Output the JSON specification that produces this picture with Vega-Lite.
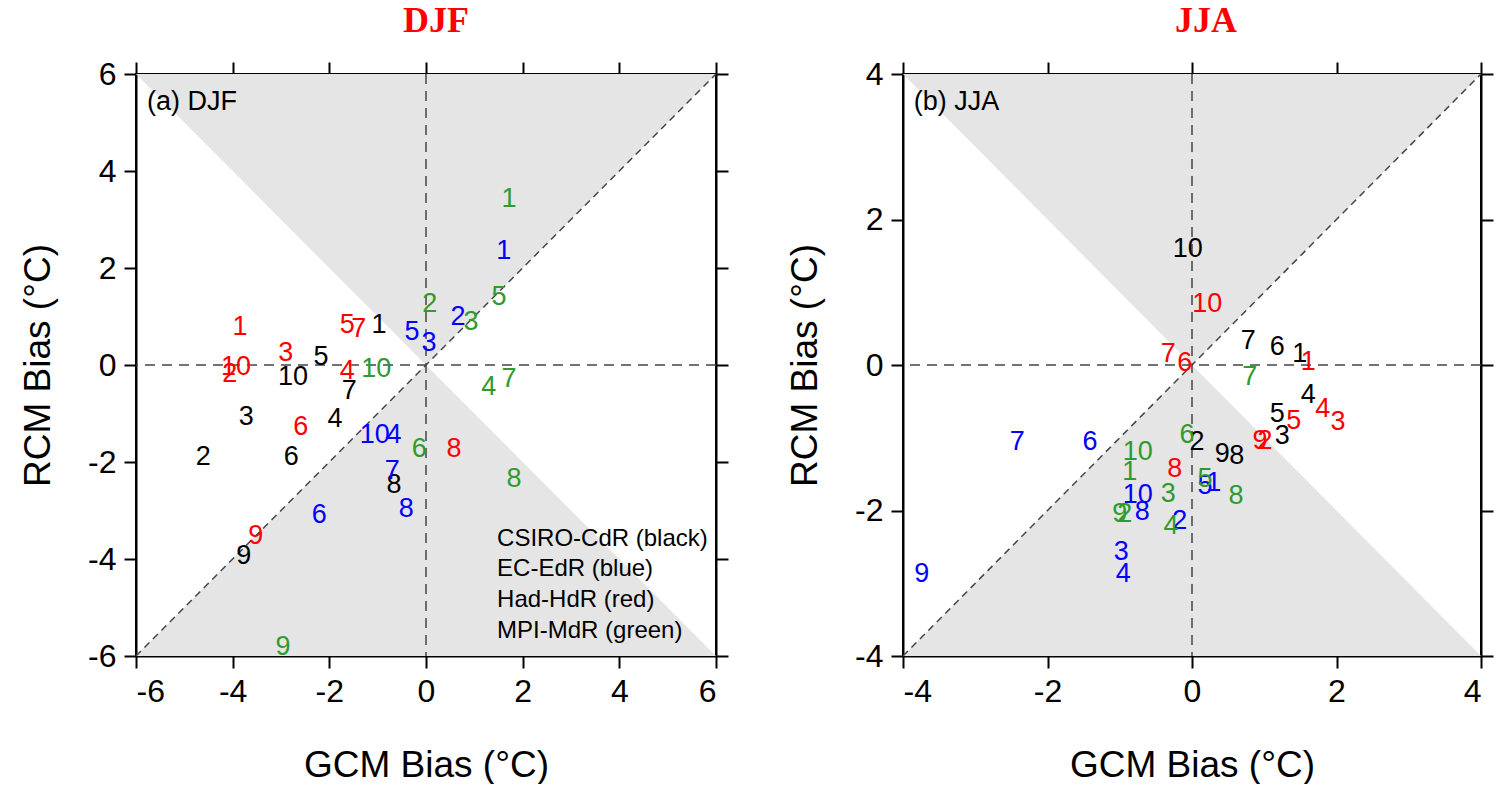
{
  "$schema": "https://vega.github.io/schema/vega-lite/v6.json",
  "background": "white",
  "padding": {"left": 18, "top": 2, "right": 0, "bottom": 0},
  "spacing": 55,
  "config": {
    "view": {"stroke": "black", "strokeWidth": 2},
    "font": "Liberation Sans",
    "axis": {
      "grid": false,
      "domainColor": "black",
      "domainWidth": 2,
      "tickColor": "black",
      "tickWidth": 2,
      "tickSize": 12,
      "labelFont": "Liberation Sans",
      "labelFontSize": 32,
      "labelColor": "black",
      "labelPadding": 8,
      "labelExpr": "replace(datum.label, '\u2212', '-')",
      "titleFont": "Liberation Sans",
      "titleFontSize": 37,
      "titleFontWeight": "normal",
      "titleColor": "black"
    },
    "axisBottom": {"titlePadding": 40},
    "axisLeft": {"titlePadding": 30}
  },
  "datasets": {
    "tri6": [{"x": -6, "u": 6, "l": -6}, {"x": 0, "u": 0, "l": 0}, {"x": 6, "u": 6, "l": -6}],
    "tri4": [{"x": -4, "u": 4, "l": -4}, {"x": 0, "u": 0, "l": 0}, {"x": 4, "u": 4, "l": -4}],
    "diag6": [{"x": -6, "y": -6, "x2": 6, "y2": 6}],
    "diag4": [{"x": -4, "y": -4, "x2": 4, "y2": 4}],
    "djf": [
      {"m": "C", "n": "1", "gx": -0.97, "ry": 0.82},
      {"m": "C", "n": "2", "gx": -4.61, "ry": -1.9},
      {"m": "C", "n": "3", "gx": -3.72, "ry": -1.07},
      {"m": "C", "n": "4", "gx": -1.88, "ry": -1.11},
      {"m": "C", "n": "5", "gx": -2.17, "ry": 0.16},
      {"m": "C", "n": "6", "gx": -2.79, "ry": -1.9},
      {"m": "C", "n": "7", "gx": -1.59, "ry": -0.54},
      {"m": "C", "n": "8", "gx": -0.66, "ry": -2.47},
      {"m": "C", "n": "9", "gx": -3.77, "ry": -3.94},
      {"m": "C", "n": "10", "gx": -2.75, "ry": -0.25},
      {"m": "E", "n": "1", "gx": 1.61, "ry": 2.35},
      {"m": "E", "n": "2", "gx": 0.66, "ry": 0.99},
      {"m": "E", "n": "3", "gx": 0.06, "ry": 0.45},
      {"m": "E", "n": "4", "gx": -0.66, "ry": -1.44},
      {"m": "E", "n": "5", "gx": -0.29, "ry": 0.68},
      {"m": "E", "n": "6", "gx": -2.21, "ry": -3.09},
      {"m": "E", "n": "7", "gx": -0.7, "ry": -2.19},
      {"m": "E", "n": "8", "gx": -0.41, "ry": -2.97},
      {"m": "E", "n": "10", "gx": -1.06, "ry": -1.44},
      {"m": "H", "n": "1", "gx": -3.85, "ry": 0.78},
      {"m": "H", "n": "2", "gx": -4.06, "ry": -0.19},
      {"m": "H", "n": "3", "gx": -2.9, "ry": 0.25},
      {"m": "H", "n": "4", "gx": -1.63, "ry": -0.12},
      {"m": "H", "n": "5", "gx": -1.63, "ry": 0.82},
      {"m": "H", "n": "6", "gx": -2.59, "ry": -1.28},
      {"m": "H", "n": "7", "gx": -1.39, "ry": 0.74},
      {"m": "H", "n": "8", "gx": 0.58, "ry": -1.73},
      {"m": "H", "n": "9", "gx": -3.52, "ry": -3.53},
      {"m": "H", "n": "10", "gx": -3.93, "ry": -0.04},
      {"m": "M", "n": "1", "gx": 1.72, "ry": 3.42},
      {"m": "M", "n": "2", "gx": 0.08, "ry": 1.26},
      {"m": "M", "n": "3", "gx": 0.93, "ry": 0.89},
      {"m": "M", "n": "4", "gx": 1.3, "ry": -0.45},
      {"m": "M", "n": "5", "gx": 1.51, "ry": 1.4},
      {"m": "M", "n": "6", "gx": -0.14, "ry": -1.73},
      {"m": "M", "n": "7", "gx": 1.72, "ry": -0.29},
      {"m": "M", "n": "8", "gx": 1.82, "ry": -2.35},
      {"m": "M", "n": "9", "gx": -2.96, "ry": -5.81},
      {"m": "M", "n": "10", "gx": -1.03, "ry": -0.08}
    ],
    "jja": [
      {"m": "C", "n": "1", "gx": 1.49, "ry": 0.15},
      {"m": "C", "n": "2", "gx": 0.07, "ry": -1.06},
      {"m": "C", "n": "3", "gx": 1.25, "ry": -0.98},
      {"m": "C", "n": "4", "gx": 1.61, "ry": -0.41},
      {"m": "C", "n": "5", "gx": 1.18, "ry": -0.67},
      {"m": "C", "n": "6", "gx": 1.18, "ry": 0.25},
      {"m": "C", "n": "7", "gx": 0.78, "ry": 0.33},
      {"m": "C", "n": "8", "gx": 0.62, "ry": -1.25},
      {"m": "C", "n": "9", "gx": 0.42, "ry": -1.22},
      {"m": "C", "n": "10", "gx": -0.06, "ry": 1.59},
      {"m": "E", "n": "1", "gx": 0.3, "ry": -1.62},
      {"m": "E", "n": "2", "gx": -0.17, "ry": -2.14},
      {"m": "E", "n": "3", "gx": -0.98, "ry": -2.57},
      {"m": "E", "n": "4", "gx": -0.95, "ry": -2.87},
      {"m": "E", "n": "5", "gx": 0.18, "ry": -1.66},
      {"m": "E", "n": "6", "gx": -1.41, "ry": -1.06},
      {"m": "E", "n": "7", "gx": -2.42, "ry": -1.06},
      {"m": "E", "n": "8", "gx": -0.69, "ry": -2.02},
      {"m": "E", "n": "9", "gx": -3.74, "ry": -2.87},
      {"m": "E", "n": "10", "gx": -0.75, "ry": -1.79},
      {"m": "H", "n": "1", "gx": 1.61, "ry": 0.04},
      {"m": "H", "n": "2", "gx": 1.01, "ry": -1.04},
      {"m": "H", "n": "3", "gx": 2.02, "ry": -0.78},
      {"m": "H", "n": "4", "gx": 1.81, "ry": -0.6},
      {"m": "H", "n": "5", "gx": 1.41, "ry": -0.77},
      {"m": "H", "n": "6", "gx": -0.1, "ry": 0.03},
      {"m": "H", "n": "7", "gx": -0.33, "ry": 0.15},
      {"m": "H", "n": "8", "gx": -0.24, "ry": -1.43},
      {"m": "H", "n": "9", "gx": 0.94, "ry": -1.04},
      {"m": "H", "n": "10", "gx": 0.21, "ry": 0.84},
      {"m": "M", "n": "1", "gx": -0.86, "ry": -1.47},
      {"m": "M", "n": "2", "gx": -0.93, "ry": -2.05},
      {"m": "M", "n": "3", "gx": -0.33, "ry": -1.77},
      {"m": "M", "n": "4", "gx": -0.29, "ry": -2.21},
      {"m": "M", "n": "5", "gx": 0.18, "ry": -1.57},
      {"m": "M", "n": "6", "gx": -0.07, "ry": -0.96},
      {"m": "M", "n": "7", "gx": 0.8, "ry": -0.16},
      {"m": "M", "n": "8", "gx": 0.61, "ry": -1.8},
      {"m": "M", "n": "9", "gx": -1.0, "ry": -2.05},
      {"m": "M", "n": "10", "gx": -0.75, "ry": -1.2}
    ],
    "noteA": [{"x": -5.77, "y": 5.42, "t": "(a) DJF"}],
    "noteB": [{"x": -3.85, "y": 3.62, "t": "(b) JJA"}],
    "legendA": [
      {"x": 1.47, "y": -3.59, "t": "CSIRO-CdR (black)"},
      {"x": 1.47, "y": -4.21, "t": "EC-EdR (blue)"},
      {"x": 1.47, "y": -4.85, "t": "Had-HdR (red)"},
      {"x": 1.47, "y": -5.48, "t": "MPI-MdR (green)"}
    ]
  },
  "hconcat": [
    {
      "width": 580,
      "height": 582,
      "title": {"text": "DJF", "color": "#ff0000", "font": "Liberation Serif", "fontSize": 36, "fontWeight": "bold", "frame": "group", "anchor": "middle", "offset": 18, "dx": 10},
      "layer": [
        {
          "data": {"name": "tri6"},
          "mark": {"type": "area", "color": "#e5e5e5"},
          "encoding": {
            "x": {"field": "x", "type": "quantitative", "scale": {"domain": [-6, 6], "nice": false, "zero": false}, "axis": {"orient": "bottom", "values": [-6, -4, -2, 0, 2, 4, 6], "title": "GCM Bias (°C)"}},
            "y": {"field": "u", "type": "quantitative", "scale": {"domain": [-6, 6], "nice": false, "zero": false}, "axis": {"orient": "left", "values": [-6, -4, -2, 0, 2, 4, 6], "title": "RCM Bias (°C)"}},
            "y2": {"datum": 6}
          }
        },
        {
          "data": {"name": "tri6"},
          "mark": {"type": "area", "color": "#e5e5e5"},
          "encoding": {
            "x": {"field": "x", "type": "quantitative", "axis": {"orient": "top", "values": [-6, -4, -2, 0, 2, 4, 6], "labels": false, "title": null}},
            "y": {"field": "l", "type": "quantitative", "axis": {"orient": "right", "values": [-6, -4, -2, 0, 2, 4, 6], "labels": false, "title": null}},
            "y2": {"datum": -6}
          }
        },
        {
          "data": {"name": "diag6"},
          "mark": {"type": "rule", "color": "#444", "strokeWidth": 1.5, "strokeDash": [7, 5]},
          "encoding": {
            "x": {"field": "x", "type": "quantitative", "axis": null},
            "y": {"field": "y", "type": "quantitative", "axis": null},
            "x2": {"field": "x2"},
            "y2": {"field": "y2"}
          }
        },
        {
          "data": {"name": "diag6"},
          "mark": {"type": "rule", "color": "#444", "strokeWidth": 1.5, "strokeDash": [10, 7]},
          "encoding": {"y": {"datum": 0, "type": "quantitative", "axis": null}}
        },
        {
          "data": {"name": "diag6"},
          "mark": {"type": "rule", "color": "#444", "strokeWidth": 1.5, "strokeDash": [10, 7]},
          "encoding": {"x": {"datum": 0, "type": "quantitative", "axis": null}}
        },
        {
          "data": {"name": "djf"},
          "mark": {"type": "text", "fontSize": 27, "align": "center", "baseline": "middle", "font": "Liberation Sans"},
          "encoding": {
            "x": {"field": "gx", "type": "quantitative", "axis": null},
            "y": {"field": "ry", "type": "quantitative", "axis": null},
            "text": {"field": "n"},
            "color": {"field": "m", "type": "nominal", "scale": {"domain": ["C", "E", "H", "M"], "range": ["#000000", "#0000ff", "#ff0000", "#2e9b2e"]}, "legend": null}
          }
        },
        {
          "data": {"name": "noteA"},
          "mark": {"type": "text", "fontSize": 27, "align": "left", "baseline": "middle", "color": "black"},
          "encoding": {
            "x": {"field": "x", "type": "quantitative", "axis": null},
            "y": {"field": "y", "type": "quantitative", "axis": null},
            "text": {"field": "t"}
          }
        },
        {
          "data": {"name": "legendA"},
          "mark": {"type": "text", "fontSize": 24, "align": "left", "baseline": "middle", "color": "black"},
          "encoding": {
            "x": {"field": "x", "type": "quantitative", "axis": null},
            "y": {"field": "y", "type": "quantitative", "axis": null},
            "text": {"field": "t"}
          }
        }
      ],
      "resolve": {"axis": {"x": "independent", "y": "independent"}}
    },
    {
      "width": 578,
      "height": 582,
      "title": {"text": "JJA", "color": "#ff0000", "font": "Liberation Serif", "fontSize": 36, "fontWeight": "bold", "frame": "group", "anchor": "middle", "offset": 18, "dx": 14},
      "layer": [
        {
          "data": {"name": "tri4"},
          "mark": {"type": "area", "color": "#e5e5e5"},
          "encoding": {
            "x": {"field": "x", "type": "quantitative", "scale": {"domain": [-4, 4], "nice": false, "zero": false}, "axis": {"orient": "bottom", "values": [-4, -2, 0, 2, 4], "title": "GCM Bias (°C)"}},
            "y": {"field": "u", "type": "quantitative", "scale": {"domain": [-4, 4], "nice": false, "zero": false}, "axis": {"orient": "left", "values": [-4, -2, 0, 2, 4], "title": "RCM Bias (°C)"}},
            "y2": {"datum": 4}
          }
        },
        {
          "data": {"name": "tri4"},
          "mark": {"type": "area", "color": "#e5e5e5"},
          "encoding": {
            "x": {"field": "x", "type": "quantitative", "axis": {"orient": "top", "values": [-4, -2, 0, 2, 4], "labels": false, "title": null}},
            "y": {"field": "l", "type": "quantitative", "axis": {"orient": "right", "values": [-4, -2, 0, 2, 4], "labels": false, "title": null}},
            "y2": {"datum": -4}
          }
        },
        {
          "data": {"name": "diag4"},
          "mark": {"type": "rule", "color": "#444", "strokeWidth": 1.5, "strokeDash": [7, 5]},
          "encoding": {
            "x": {"field": "x", "type": "quantitative", "axis": null},
            "y": {"field": "y", "type": "quantitative", "axis": null},
            "x2": {"field": "x2"},
            "y2": {"field": "y2"}
          }
        },
        {
          "data": {"name": "diag4"},
          "mark": {"type": "rule", "color": "#444", "strokeWidth": 1.5, "strokeDash": [10, 7]},
          "encoding": {"y": {"datum": 0, "type": "quantitative", "axis": null}}
        },
        {
          "data": {"name": "diag4"},
          "mark": {"type": "rule", "color": "#444", "strokeWidth": 1.5, "strokeDash": [10, 7]},
          "encoding": {"x": {"datum": 0, "type": "quantitative", "axis": null}}
        },
        {
          "data": {"name": "jja"},
          "mark": {"type": "text", "fontSize": 27, "align": "center", "baseline": "middle", "font": "Liberation Sans"},
          "encoding": {
            "x": {"field": "gx", "type": "quantitative", "axis": null},
            "y": {"field": "ry", "type": "quantitative", "axis": null},
            "text": {"field": "n"},
            "color": {"field": "m", "type": "nominal", "scale": {"domain": ["C", "E", "H", "M"], "range": ["#000000", "#0000ff", "#ff0000", "#2e9b2e"]}, "legend": null}
          }
        },
        {
          "data": {"name": "noteB"},
          "mark": {"type": "text", "fontSize": 27, "align": "left", "baseline": "middle", "color": "black"},
          "encoding": {
            "x": {"field": "x", "type": "quantitative", "axis": null},
            "y": {"field": "y", "type": "quantitative", "axis": null},
            "text": {"field": "t"}
          }
        }
      ],
      "resolve": {"axis": {"x": "independent", "y": "independent"}}
    }
  ]
}
